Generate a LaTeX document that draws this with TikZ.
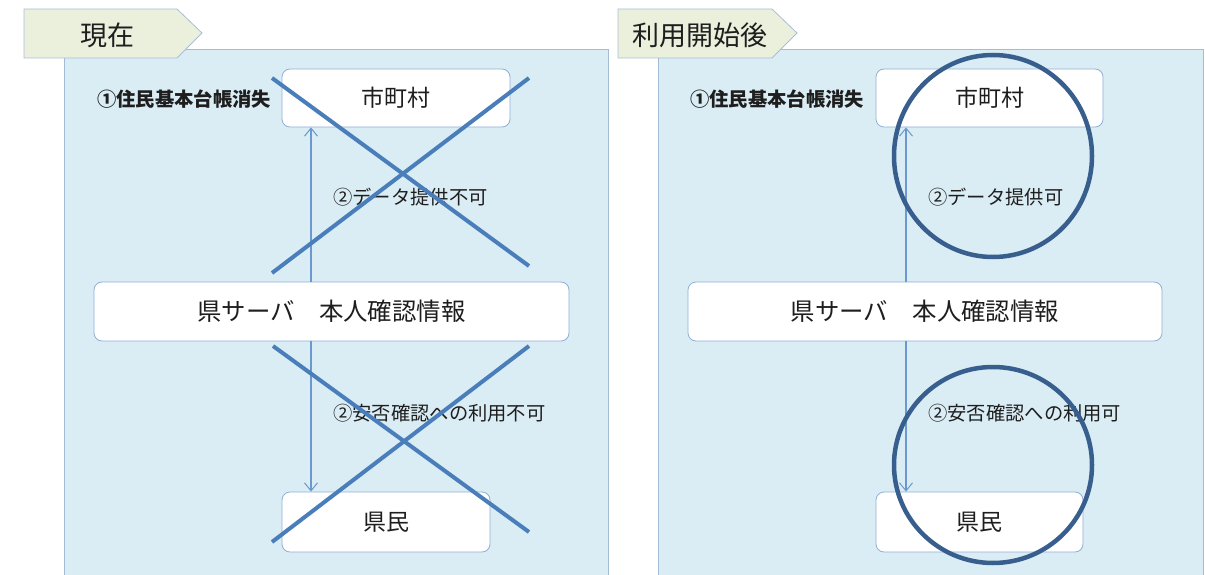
\documentclass[tikz,border=0pt]{standalone}
\usepackage{fontspec}
\setmainfont{Noto Sans CJK JP}
\usetikzlibrary{arrows.meta}
\definecolor{panelfill}{HTML}{DAEDF4}
\definecolor{panelline}{HTML}{A3BCD6}
\definecolor{tabfill}{HTML}{EBF0DD}
\definecolor{tabline}{HTML}{A9BED6}
\definecolor{boxline}{HTML}{8FAFD6}
\definecolor{arrline}{HTML}{6B98CF}
\definecolor{xline}{HTML}{4A7EBB}
\definecolor{oline}{HTML}{385E8E}
\definecolor{txt}{HTML}{1E1E1E}
\begin{document}
\begin{tikzpicture}[x=1pt,y=-1pt,
  panel/.style={draw=panelline,fill=panelfill,line width=0.8pt},
  tabshape/.style={draw=tabline,fill=tabfill,line width=0.8pt},
  tabtext/.style={anchor=west,text=txt,font=\fontsize{27}{27}\selectfont,inner sep=0pt},
  box/.style={draw=boxline,fill=white,rounded corners=8pt,line width=0.8pt,text=txt,
    font=\fontsize{23}{23}\selectfont,inner sep=0pt},
  lbl/.style={anchor=west,text=txt,font=\fontsize{19.3}{19.3}\selectfont,inner sep=0pt},
  arr/.style={draw=arrline,line width=1.1pt,-{Straight Barb[length=8pt,width=13pt,line width=1pt]}},
  xmark/.style={draw=xline,line width=4pt},
  omark/.style={draw=oline,line width=4.5pt}]
\useasboundingbox (0,0) rectangle (1205,575);
% panels
\path[panel] (64,49) rectangle (608,590);
\path[panel] (658,49) rectangle (1203,590);
% tabs
\path[tabshape] (24,9) -- (177,9) -- (202,33) -- (177,58) -- (24,58) -- cycle;
\path[tabshape] (618,9) -- (772,9) -- (797,33) -- (772,58) -- (618,58) -- cycle;
\node[tabtext] (Ltab) at (80,35) {現在};
\node[tabtext] (Rtab) at (632,35) {利用開始後};
% left boxes
\node[box,minimum width=228pt,minimum height=58pt] (Lcity) at (396,98) {市町村};
\node[box,minimum width=475pt,minimum height=59pt,font=\fontsize{24.4}{24.4}\selectfont] (Lsrv) at (331.5,311.5) {県サーバ　本人確認情報};
\node[box,minimum width=208pt,minimum height=60pt] (Lres) at (386,522) {県民};
% right boxes
\node[box,minimum width=227pt,minimum height=58pt] (Rcity) at (989.5,98) {市町村};
\node[box,minimum width=474pt,minimum height=59pt,font=\fontsize{24.4}{24.4}\selectfont] (Rsrv) at (925,311.5) {県サーバ　本人確認情報};
\node[box,minimum width=207pt,minimum height=60pt] (Rres) at (979.5,522) {県民};
% arrows
\coordinate (La) at (311,0);
\coordinate (Ra) at (906,0);
\draw[arr] (Lsrv.north -| La) -- (Lcity.south -| La);
\draw[arr] (Lsrv.south -| La) -- (Lres.north -| La);
\draw[arr] (Rsrv.north -| Ra) -- (Rcity.south -| Ra);
\draw[arr] (Rsrv.south -| Ra) -- (Rres.north -| Ra);
% labels
\node[lbl,font=\fontsize{19.3}{19.3}\selectfont\bfseries] (Lloss) at (97,99) {①住民基本台帳消失};
\node[lbl,font=\fontsize{19.3}{19.3}\selectfont\bfseries] (Rloss) at (690,99) {①住民基本台帳消失};
\node[lbl] (Ldata) at (333,197) {②データ提供不可};
\node[lbl] (Lsafe) at (333,413) {②安否確認への利用不可};
\node[lbl] (Rdata) at (928,197) {②データ提供可};
\node[lbl] (Rsafe) at (928,413) {②安否確認への利用可};
% crosses
\draw[xmark] (272,78) -- (529,266);
\draw[xmark] (272,273) -- (529,78);
\draw[xmark] (273,346) -- (529,532);
\draw[xmark] (272,542) -- (529,346);
% circles
\draw[omark] (993,156) ellipse [x radius=99pt,y radius=101pt];
\draw[omark] (993,465) ellipse [x radius=99pt,y radius=98pt];
\end{tikzpicture}
\end{document}
